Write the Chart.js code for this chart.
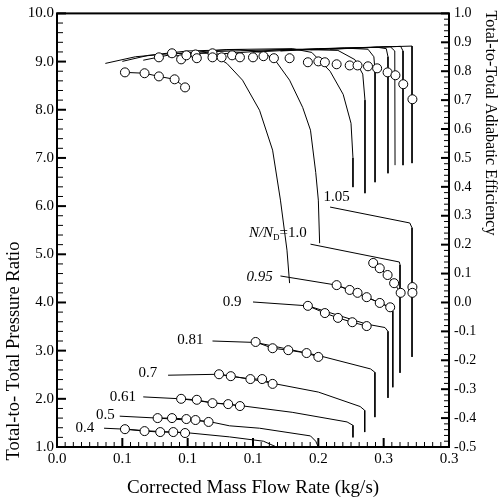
<!DOCTYPE html>
<html lang="en">
<head>
<meta charset="UTF-8">
<title>Compressor Map</title>
<script src="https://cdn.jsdelivr.net/npm/chart.js"></script>
<style>
  html, body { margin: 0; padding: 0; background: #fff; }
  canvas { display: block; }
</style>
</head>
<body>
<canvas id="map" width="499" height="499"></canvas>
<script>
// axis tick labels (as printed on the original figure)
const flowTickLabels = ['0.0', '0.1', '0.1', '0.1', '0.2', '0.3', '0.3'];
const ratioTickLabels = ['1.0', '2.0', '3.0', '4.0', '5.0', '6.0', '7.0', '8.0', '9.0', '10.0'];
const effTickLabels = ['-0.5', '-0.4', '-0.3', '-0.2', '-0.1', '0.0', '0.1', '0.2',
                       '0.3', '0.4', '0.5', '0.6', '0.7', '0.8', '0.9', '1.0'];

// speed lines N/ND and where their labels sit (flow, pressure ratio)
const speeds = ['0.4', '0.5', '0.61', '0.7', '0.81', '0.9', '0.95', 'N/N_D=1.0', '1.05'];
const speedLabelFlow = [0.0214, 0.037, 0.0505, 0.0696, 0.102, 0.134, 0.155, 0.169, 0.214];
const speedLabelRatio = [1.39, 1.66, 2.04, 2.54, 3.22, 4.01, 4.53, 5.44, 6.19];

// predicted pressure ratio, one list per speed
const prFlow = [
  [0.036, 0.052, 0.067, 0.079, 0.098, 0.132, 0.158, 0.168],
  [0.048, 0.077, 0.116, 0.132, 0.155, 0.194, 0.198, 0.200],
  [0.066, 0.095, 0.119, 0.140, 0.180, 0.222, 0.2265, 0.2265],
  [0.085, 0.124, 0.150, 0.200, 0.232, 0.2355, 0.2355],
  [0.119, 0.152, 0.200, 0.240, 0.2433, 0.2433],
  [0.150, 0.192, 0.237, 0.251, 0.2533, 0.2533],
  [0.171, 0.214, 0.237, 0.255, 0.257, 0.257],
  [0.194, 0.262, 0.2625, 0.2625],
  [0.209, 0.270, 0.2717, 0.2717]
];
const prRatio = [
  [1.39, 1.37, 1.34, 1.32, 1.30, 1.21, 1.12, 1.0],
  [1.64, 1.60, 1.53, 1.44, 1.39, 1.23, 1.12, 1.0],
  [2.04, 2.00, 1.92, 1.86, 1.72, 1.52, 1.45, 1.20],
  [2.49, 2.51, 2.40, 2.14, 1.84, 1.76, 1.31],
  [3.20, 3.17, 2.90, 2.62, 2.55, 1.62],
  [4.01, 3.93, 3.55, 3.48, 3.40, 2.02],
  [4.55, 4.36, 4.11, 3.90, 3.82, 2.24],
  [5.21, 4.84, 4.78, 2.54],
  [5.98, 5.65, 5.55, 2.87]
];

// measured pressure ratio
const prTestFlow = [
  [0.052, 0.067, 0.079, 0.089, 0.098],
  [0.077, 0.088, 0.099, 0.106, 0.116],
  [0.095, 0.107, 0.119, 0.131, 0.140],
  [0.124, 0.133, 0.148, 0.157, 0.165],
  [0.152, 0.165, 0.177, 0.191, 0.200],
  [0.192, 0.205, 0.215, 0.226, 0.237],
  [0.214, 0.224, 0.230, 0.237, 0.247, 0.255],
  [0.242, 0.247, 0.253, 0.258, 0.263],
  [0.272, 0.272]
];
const prTestRatio = [
  [1.37, 1.33, 1.31, 1.31, 1.29],
  [1.60, 1.60, 1.58, 1.56, 1.52],
  [2.00, 1.98, 1.91, 1.89, 1.85],
  [2.51, 2.47, 2.41, 2.41, 2.31],
  [3.18, 3.05, 3.01, 2.95, 2.87],
  [3.93, 3.78, 3.68, 3.59, 3.51],
  [4.36, 4.26, 4.20, 4.11, 3.99, 3.90],
  [4.82, 4.71, 4.57, 4.40, 4.20],
  [4.32, 4.20]
];

// predicted efficiency, one list per speed
const effFlow = [
  [0.037, 0.060, 0.090, 0.117, 0.130, 0.142, 0.155, 0.165, 0.171, 0.176, 0.178],
  [0.050, 0.070, 0.100, 0.140, 0.158, 0.167, 0.178, 0.188, 0.194, 0.198, 0.200, 0.201],
  [0.066, 0.090, 0.130, 0.180, 0.195, 0.209, 0.219, 0.225, 0.2265, 0.2265],
  [0.085, 0.120, 0.180, 0.215, 0.228, 0.234, 0.2357, 0.2357],
  [0.119, 0.170, 0.220, 0.238, 0.2425, 0.2434, 0.2434],
  [0.150, 0.200, 0.245, 0.252, 0.2533, 0.2533],
  [0.171, 0.220, 0.255, 0.2585, 0.2587],
  [0.194, 0.240, 0.263, 0.2648, 0.2648],
  [0.209, 0.250, 0.2717, 0.2717]
];
const effValue = [
  [0.827, 0.850, 0.862, 0.862, 0.827, 0.769, 0.665, 0.527, 0.354, 0.181, 0.067],
  [0.834, 0.855, 0.870, 0.875, 0.865, 0.838, 0.769, 0.675, 0.596, 0.450, 0.354, 0.205],
  [0.838, 0.860, 0.875, 0.878, 0.865, 0.800, 0.720, 0.620, 0.500, 0.399],
  [0.850, 0.868, 0.876, 0.872, 0.840, 0.790, 0.700, 0.378],
  [0.858, 0.874, 0.880, 0.876, 0.850, 0.800, 0.416],
  [0.866, 0.878, 0.883, 0.878, 0.850, 0.447],
  [0.870, 0.880, 0.885, 0.870, 0.475],
  [0.874, 0.882, 0.886, 0.870, 0.475],
  [0.876, 0.884, 0.887, 0.482]
];

// measured efficiency
const effTestFlow = [0.078, 0.088, 0.095, 0.099, 0.106, 0.107, 0.119, 0.119, 0.126, 0.134, 0.140,
                     0.150, 0.158, 0.166, 0.178, 0.192, 0.200, 0.205, 0.214, 0.224, 0.230,
                     0.238, 0.245, 0.253, 0.259, 0.265, 0.272];
const effTestValue = [0.848, 0.862, 0.841, 0.855, 0.858, 0.845, 0.862, 0.848, 0.848, 0.855, 0.848,
                      0.848, 0.852, 0.845, 0.845, 0.831, 0.834, 0.831, 0.824, 0.820, 0.820,
                      0.817, 0.810, 0.796, 0.786, 0.755, 0.703];
// measured efficiency at N/ND = 0.4
const effLowFlow = [0.052, 0.067, 0.078, 0.090, 0.098];
const effLowValue = [0.796, 0.793, 0.782, 0.772, 0.744];

const serif = '"Liberation Serif", "Times New Roman", serif';

function pts(xs, ys) {
  return xs.map((x, i) => ({ x: x, y: ys[i] }));
}

const lineStyle = { showLine: true, borderColor: '#000', borderWidth: 1, pointRadius: 0, tension: 0, order: 2 };
const ringStyle = { borderColor: '#000', borderWidth: 1, pointRadius: 4.5, pointBackgroundColor: '#fff',
                    pointBorderColor: '#000', pointBorderWidth: 1, order: 1 };

const datasets = [];
prFlow.forEach((f, i) => datasets.push({ ...lineStyle, yAxisID: 'y', data: pts(f, prRatio[i]) }));
effFlow.forEach((f, i) => datasets.push({ ...lineStyle, yAxisID: 'y2', data: pts(f, effValue[i]) }));
prTestFlow.forEach((f, i) => datasets.push({ ...ringStyle, showLine: true, yAxisID: 'y', data: pts(f, prTestRatio[i]) }));
datasets.push({ ...ringStyle, showLine: true, yAxisID: 'y2', data: pts(effLowFlow, effLowValue) });
datasets.push({ ...ringStyle, showLine: false, yAxisID: 'y2', data: pts(effTestFlow, effTestValue) });

// frame, inward ticks, speed labels and axis titles
const decorations = {
  id: 'decorations',
  afterDraw(chart) {
    const { ctx, chartArea: a, scales } = chart;
    ctx.save();
    ctx.strokeStyle = '#000';
    ctx.fillStyle = '#000';

    function tick(x1, y1, x2, y2, w) {
      ctx.lineWidth = w;
      ctx.beginPath();
      ctx.moveTo(x1, y1);
      ctx.lineTo(x2, y2);
      ctx.stroke();
    }
    // bottom axis: major every 0.05, 8 minor steps
    for (let k = 0; k <= 48; k++) {
      const px = scales.x.getPixelForValue(k * 0.3 / 48);
      const major = k % 8 === 0;
      tick(px, a.bottom, px, a.bottom - (major ? 9 : 5), major ? 2 : 1);
    }
    // left axis: major every 1.0, minor 0.2
    for (let k = 0; k <= 45; k++) {
      const py = scales.y.getPixelForValue(1 + k * 0.2);
      const major = k % 5 === 0;
      tick(a.left, py, a.left + (major ? 9 : 6), py, major ? 2 : 1);
    }
    // right axis: major every 0.1, minor 0.02
    for (let k = 0; k <= 75; k++) {
      const py = scales.y2.getPixelForValue(-0.5 + k * 0.02);
      const major = k % 5 === 0;
      tick(a.right, py, a.right - (major ? 8 : 5), py, major ? 2 : 1);
    }
    ctx.lineWidth = 2;
    ctx.strokeRect(a.left, a.top, a.right - a.left, a.bottom - a.top);

    // speed labels
    ctx.textBaseline = 'middle';
    speeds.forEach((s, i) => {
      const px = scales.x.getPixelForValue(speedLabelFlow[i]);
      const py = scales.y.getPixelForValue(speedLabelRatio[i]);
      if (s.indexOf('_') >= 0) {
        const head = s.split('_')[0];
        const sub = s.split('_')[1].charAt(0);
        const tail = s.split('_')[1].slice(1);
        ctx.font = 'italic 15px ' + serif;
        const w1 = ctx.measureText(head).width;
        ctx.font = '9px ' + serif;
        const w2 = ctx.measureText(sub).width;
        ctx.font = '15px ' + serif;
        const w3 = ctx.measureText(tail).width;
        let x0 = px - (w1 + w2 + w3) / 2;
        ctx.textAlign = 'left';
        ctx.font = 'italic 15px ' + serif;
        ctx.fillText(head, x0, py);
        ctx.font = '9px ' + serif;
        ctx.fillText(sub, x0 + w1, py + 5);
        ctx.font = '15px ' + serif;
        ctx.fillText(tail, x0 + w1 + w2, py);
      } else {
        ctx.textAlign = 'center';
        ctx.font = (s === '0.95' ? 'italic ' : '') + '15px ' + serif;
        ctx.fillText(s, px, py);
      }
    });

    // axis titles
    ctx.textAlign = 'center';
    ctx.font = '19px ' + serif;
    ctx.fillText('Corrected Mass Flow Rate (kg/s)', (a.left + a.right) / 2, 488);
    ctx.save();
    ctx.font = '18.5px ' + serif;
    ctx.translate(14, 351);
    ctx.rotate(-Math.PI / 2);
    ctx.fillText('Total-to- Total Pressure Ratio', 0, 0);
    ctx.restore();
    ctx.save();
    ctx.font = '16px ' + serif;
    ctx.translate(490, 123);
    ctx.rotate(Math.PI / 2);
    ctx.fillText('Total-to-Total Adiabatic Efficiency', 0, 0);
    ctx.restore();
    ctx.restore();
  }
};

const tickFont = { family: serif, size: 15 };
const noGrid = { display: false, drawTicks: false };

new Chart(document.getElementById('map'), {
  type: 'scatter',
  data: { datasets: datasets },
  options: {
    responsive: false,
    animation: false,
    layout: { padding: { top: 13, left: 0, right: 0, bottom: 0 } },
    plugins: { legend: { display: false }, tooltip: { enabled: false } },
    scales: {
      x: {
        type: 'linear', min: 0, max: 0.3,
        grid: noGrid, border: { display: false },
        ticks: { stepSize: 0.05, autoSkip: false, maxRotation: 0, padding: 3, color: '#000', font: tickFont,
                 callback: (v, i) => flowTickLabels[i] },
        afterFit: s => { s.height = 52; }
      },
      y: {
        type: 'linear', position: 'left', min: 1, max: 10,
        grid: noGrid, border: { display: false },
        ticks: { stepSize: 1, autoSkip: false, padding: 3, color: '#000', font: tickFont,
                 callback: (v, i) => ratioTickLabels[i] },
        afterFit: s => { s.width = 57; }
      },
      y2: {
        type: 'linear', position: 'right', min: -0.5, max: 1,
        grid: noGrid, border: { display: false },
        ticks: { stepSize: 0.1, autoSkip: false, padding: 5, color: '#000', font: { family: serif, size: 14 },
                 callback: (v, i) => effTickLabels[i] },
        afterFit: s => { s.width = 50; }
      }
    }
  },
  plugins: [decorations]
});
</script>
</body>
</html>
